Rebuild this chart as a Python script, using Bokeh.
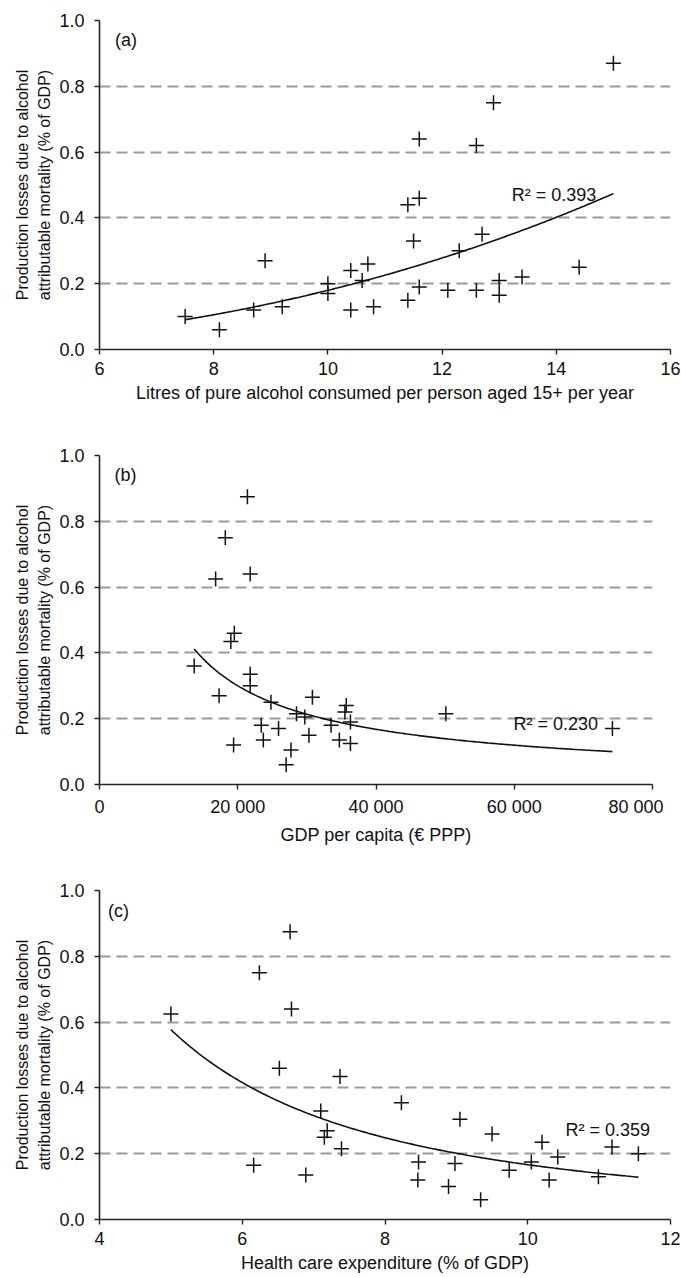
import numpy as np
from bokeh.plotting import figure
from bokeh.layouts import column
from bokeh.models import FixedTicker, Range1d
from bokeh.core.properties import value
from bokeh.embed import file_html
from bokeh.resources import INLINE

# ---- data ----
y_label = "Production losses due to alcohol\nattributable mortality (% of GDP)"
y_ticks = [0.0, 0.2, 0.4, 0.6, 0.8, 1.0]

# (a) alcohol consumption
alc_x = [7.5, 8.1, 8.7, 8.9, 9.2, 10.0, 10.0, 10.4, 10.4, 10.6, 10.7, 10.8, 11.4, 11.4,
         11.5, 11.6, 11.6, 11.6, 12.1, 12.3, 12.6, 12.6, 12.7, 12.9, 13.0, 13.0, 13.4, 14.4, 15.0]
alc_y = [0.10, 0.06, 0.12, 0.27, 0.13, 0.20, 0.17, 0.24, 0.12, 0.21, 0.26, 0.13, 0.44, 0.15,
         0.33, 0.64, 0.46, 0.19, 0.18, 0.30, 0.62, 0.18, 0.35, 0.75, 0.21, 0.165, 0.22, 0.25, 0.87]
alc_ticks = [6, 8, 10, 12, 14, 16]

# (b) GDP per capita
gdp_x = [13700, 16800, 17300, 18200, 19000, 19500, 19400, 21400, 21800, 21800, 21800, 23400,
         23700, 24800, 25900, 27000, 27700, 28500, 29700, 30300, 30800, 33500, 34700, 35500,
         35700, 36300, 36300, 50100, 74200]
gdp_y = [0.36, 0.625, 0.27, 0.75, 0.435, 0.46, 0.12, 0.875, 0.64, 0.335, 0.30, 0.18,
         0.135, 0.25, 0.17, 0.06, 0.105, 0.215, 0.205, 0.15, 0.265, 0.18, 0.135, 0.22,
         0.24, 0.19, 0.125, 0.215, 0.17]
gdp_ticks = [0, 20000, 40000, 60000, 80000]
gdp_tick_labels = ["0", "20 000", "40 000", "60 000", "80 000"]

# (c) health care expenditure
hce_x = [5.0, 6.16, 6.24, 6.52, 6.67, 6.69, 6.89, 7.10, 7.15, 7.19, 7.37, 7.39, 8.23, 8.47,
         8.46, 8.89, 8.98, 9.05, 9.34, 9.50, 9.74, 10.05, 10.20, 10.30, 10.42, 10.99, 11.18, 11.55]
hce_y = [0.625, 0.165, 0.75, 0.46, 0.875, 0.64, 0.135, 0.33, 0.25, 0.27, 0.435, 0.215, 0.355, 0.175,
         0.12, 0.10, 0.17, 0.305, 0.06, 0.26, 0.15, 0.175, 0.235, 0.12, 0.19, 0.13, 0.22, 0.20]
hce_ticks = [4, 6, 8, 10, 12]

panels = [
    dict(x=alc_x, y=alc_y, xr=(6, 16), ticks=alc_ticks, labels=None, tag="(a)", tag_pos=(6.27, 0.94),
         r2="R² = 0.393", r2_pos=(13.22, 0.47),
         xlabel="Litres of pure alcohol consumed per person aged 15+ per year", w=681, h=435),
    dict(x=gdp_x, y=gdp_y, xr=(0, 80000), ticks=gdp_ticks, labels=gdp_tick_labels, tag="(b)",
         tag_pos=(2170, 0.94), r2="R² = 0.230", r2_pos=(59900, 0.184),
         xlabel="GDP per capita (€ PPP)", w=663, h=435),
    dict(x=hce_x, y=hce_y, xr=(4, 12), ticks=hce_ticks, labels=None, tag="(c)", tag_pos=(4.12, 0.937),
         r2="R² = 0.359", r2_pos=(10.53, 0.271),
         xlabel="Health care expenditure (% of GDP)", w=681, h=407),
]

FONT = "Liberation Sans"
FS = "18px"
figs = []
for pn in panels:
    p = figure(width=pn["w"], height=pn["h"], output_backend="svg", toolbar_location=None,
               x_range=Range1d(*pn["xr"]), y_range=Range1d(0, 1),
               min_border_left=99, min_border_top=20, min_border_right=11,
               min_border_bottom=pn["h"] - 20 - 329)
    p.outline_line_color = None
    p.background_fill_color = "white"
    p.xgrid.grid_line_color = None
    p.ygrid.grid_line_color = "#9a9a9a"
    p.ygrid.grid_line_dash = "11 6"
    p.ygrid.grid_line_width = 2
    p.ygrid.ticker = FixedTicker(ticks=y_ticks[1:])

    for ax in (p.xaxis[0], p.yaxis[0]):
        ax.axis_line_color = "#222222"
        ax.axis_line_width = 1.6
        ax.major_tick_line_color = "#222222"
        ax.major_tick_line_width = 1.4
        ax.major_tick_out = 5
        ax.major_tick_in = 0
        ax.minor_tick_line_color = None
        ax.major_label_text_font = FONT
        ax.major_label_text_font_size = FS
        ax.major_label_text_color = "#111111"
        ax.axis_label_text_font = FONT
        ax.axis_label_text_font_size = FS
        ax.axis_label_text_font_style = "normal"
        ax.axis_label_text_color = "#111111"

    p.yaxis.ticker = FixedTicker(ticks=y_ticks)
    p.yaxis.major_label_overrides = {t: f"{t:.1f}" for t in y_ticks}
    p.yaxis.axis_label = y_label
    p.yaxis.axis_label_text_font_size = "16px"
    p.yaxis.axis_label_text_line_height = 1.35
    p.yaxis.major_label_standoff = 10
    p.yaxis.axis_label_standoff = 3

    p.xaxis.ticker = FixedTicker(ticks=pn["ticks"])
    if pn["labels"]:
        p.xaxis.major_label_overrides = dict(zip(pn["ticks"], pn["labels"]))
    p.xaxis.axis_label = pn["xlabel"]
    p.xaxis.major_label_standoff = 7
    p.xaxis.axis_label_standoff = 5

    # power trendline fitted to the data (log-log least squares)
    xs = np.array(pn["x"], float)
    ys = np.array(pn["y"], float)
    b, lna = np.polyfit(np.log(xs), np.log(ys), 1)
    xf = np.linspace(xs.min(), xs.max(), 200)
    p.line(xf, np.exp(lna) * xf ** b, line_color="#111111", line_width=1.6)

    p.scatter(pn["x"], pn["y"], marker="cross", size=15, line_color="#111111", line_width=1.5)

    p.text(x=[pn["tag_pos"][0]], y=[pn["tag_pos"][1]], text=[pn["tag"]],
           text_font=value(FONT), text_font_size=FS, text_baseline="middle",
           text_align="left", text_color="#111111")
    p.text(x=[pn["r2_pos"][0]], y=[pn["r2_pos"][1]], text=[pn["r2"]],
           text_font=value(FONT), text_font_size=FS, text_baseline="middle",
           text_align="left", text_color="#111111")
    figs.append(p)

layout = column(*figs, spacing=0)
open("out.html", "w").write(file_html(layout, INLINE))
